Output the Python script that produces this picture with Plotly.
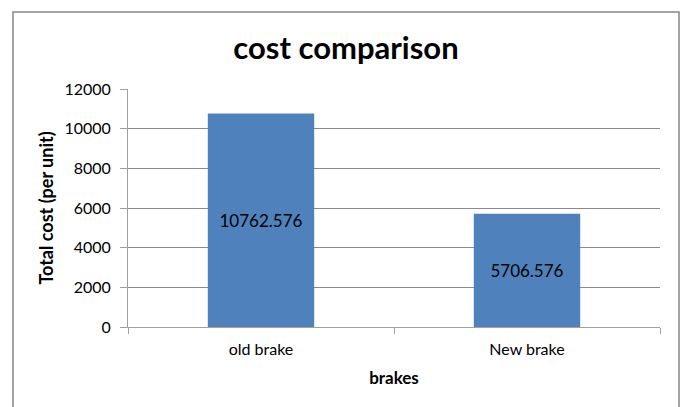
import plotly.graph_objects as go

categories = ["old brake", "New brake"]
costs = [10762.576, 5706.576]
labels = ["10762.576", "5706.576"]
y_ticks = [0, 2000, 4000, 6000, 8000, 10000, 12000]

FONT = "Lato, Roboto, sans-serif"
L, R, T, B = 128, 23, 89, 80
W, H = 683, 407
pw, ph = W - L - R, H - T - B

def px2x(px):
    return (px - L) / pw

def py2y(py):
    return (H - B - py) / ph

fig = go.Figure()
fig.add_trace(go.Bar(
    x=categories, y=costs, text=labels,
    textposition="inside", insidetextanchor="middle",
    textfont=dict(family=FONT, size=17, color="black"),
    marker=dict(color="#4F81BD", line=dict(width=0)),
    width=0.4,
))

fig.update_layout(
    width=W, height=H,
    margin=dict(l=L, r=R, t=T, b=B),
    paper_bgcolor="white", plot_bgcolor="white",
    font=dict(family=FONT, size=16, color="black"),
    showlegend=False,
    title=dict(text="<b>cost comparison</b>", x=346 / W, xref="container",
               xanchor="center", y=1 - 48 / H, yref="container", yanchor="middle",
               font=dict(family=FONT, size=31, color="black")),
    xaxis=dict(
        title=dict(text="<b>brakes</b>", font=dict(size=17), standoff=14),
        showline=True, linecolor="#a0a0a0", linewidth=1,
        ticks="outside", ticklen=6, tickcolor="#a0a0a0", tickson="boundaries",
        ticklabelstandoff=8,
        showgrid=False, tickfont=dict(size=16),
    ),
    yaxis=dict(
        title=dict(text="<b>Total cost (per unit)</b>", font=dict(size=18), standoff=6),
        range=[0, 12000], tickvals=y_ticks, ticktext=[str(v) for v in y_ticks],
        showline=True, linecolor="#a0a0a0", linewidth=1,
        ticks="outside", ticklen=7, tickcolor="#a0a0a0", ticklabelstandoff=6,
        showgrid=True, gridcolor="#8a8a8a", gridwidth=1,
        zeroline=False, tickfont=dict(size=16),
    ),
    shapes=[dict(type="rect", xref="paper", yref="paper",
                 x0=px2x(13), x1=px2x(679), y0=py2y(412), y1=py2y(12),
                 line=dict(color="#868686", width=1.5), fillcolor="rgba(0,0,0,0)",
                 layer="below")],
)

fig.write_html("out.html")
